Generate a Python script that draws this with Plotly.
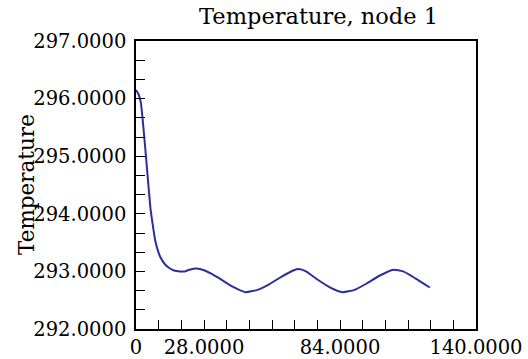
import plotly.graph_objects as go

# Node 1 temperature history
time = [0, 1, 2, 3, 4, 5, 6, 7, 8, 10, 12, 14, 16, 18, 20, 22, 25, 28, 31, 35,
        40, 45, 50, 55, 60, 65, 67, 70, 75, 80, 85, 90, 95, 100, 106, 110, 115, 121]
temperature = [296.15, 296.08, 295.93, 295.52, 295.05, 294.55, 294.08, 293.78,
               293.52, 293.25, 293.12, 293.05, 293.01, 293.00, 293.00, 293.03,
               293.05, 293.02, 292.96, 292.86, 292.73, 292.64, 292.68, 292.78,
               292.91, 293.02, 293.04, 293.00, 292.85, 292.72, 292.64, 292.68,
               292.79, 292.92, 293.03, 293.00, 292.88, 292.72]

x_tickvals = [0, 28, 84, 140]
x_ticktext = ["0", "28.0000", "84.0000", "140.0000"]
y_tickvals = [292, 293, 294, 295, 296, 297]

FONT = "DejaVu Serif"

fig = go.Figure()
fig.add_trace(go.Scatter(
    x=time, y=temperature, mode="lines",
    line=dict(color="#2c2f9a", width=2, shape="spline", smoothing=0.5),
    showlegend=False,
))

axis_common = dict(
    showgrid=False, zeroline=False, automargin=False,
    showline=True, linecolor="black", linewidth=1.5, mirror=True,
    ticks="inside", ticklen=9, tickwidth=1.3, tickcolor="black",
    tickfont=dict(family=FONT, size=19.5, color="black"),
)

fig.update_xaxes(
    range=[0, 140], tickmode="array", tickvals=x_tickvals, ticktext=x_ticktext,
    minor=dict(dtick=140 / 15, tick0=0, ticks="inside", ticklen=9,
               tickwidth=1.3, tickcolor="black"),
    ticklabelstandoff=0,
    **axis_common,
)
fig.update_yaxes(
    range=[292, 297], tickmode="array", tickvals=y_tickvals, tickformat=".4f",
    minor=dict(dtick=1 / 3, tick0=292, ticks="inside", ticklen=9,
               tickwidth=1.3, tickcolor="black"),
    ticklabelstandoff=4,
    **axis_common,
)

fig.update_layout(
    width=528, height=359,
    margin=dict(l=136, r=52, t=41, b=30),
    paper_bgcolor="white", plot_bgcolor="white",
    title=dict(text="Temperature, node 1", x=0.537, xref="paper", xanchor="center",
               y=1 - 16 / 359, yref="container", yanchor="middle",
               font=dict(family=FONT, size=22.5, color="black")),
    annotations=[dict(
        text="Temperature", textangle=-90, showarrow=False,
        xref="paper", yref="paper", x=0, y=0.5, xanchor="center", yanchor="middle",
        xshift=-110, font=dict(family=FONT, size=21.5, color="black"),
    )],
)

fig.write_html("out.html")
